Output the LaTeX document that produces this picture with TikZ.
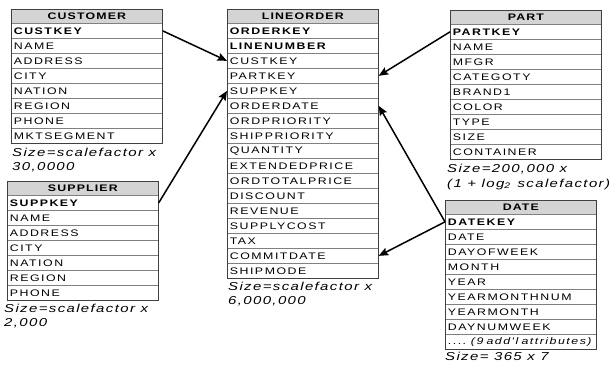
\documentclass[tikz,border=0pt]{standalone}
\usepackage{fontspec}
\setmainfont{Liberation Sans}[FakeStretch=1.3,LetterSpace=12]
\newfontfamily\rowfont{Liberation Sans}[FakeStretch=1.3,LetterSpace=16]
\usetikzlibrary{arrows.meta}

\tikzset{
  tblrow/.style={rectangle, draw=black!50, line width=0.7pt, minimum height=15pt,
    text width=146pt, inner xsep=2.5pt, inner ysep=0pt, align=left,
    anchor=north west, font=\rowfont\fontsize{9.5}{11}\selectfont},
  tblhead/.style={tblrow, fill=black!17, minimum height=14pt, align=center,
    font=\fontsize{9.5}{11}\selectfont\bfseries},
  tblframe/.style={draw=black!75, line width=0.9pt},
  sizenote/.style={anchor=base west, inner sep=0pt,
    font=\fontsize{11.5}{13}\selectfont\itshape},
  fk/.style={line width=1.5pt, -{Stealth[length=9.5pt,width=8pt,inset=1.5pt]}},
}

% #1 name prefix, #2 left x, #3 top y, #4 title, #5 rows
\newcommand{\dbtable}[5]{%
  \node[tblhead] (#1-h) at (#2,#3) {#4};
  \foreach \t [count=\i] in {#5} {
    \node[tblrow] (#1-\i) at ({#2},{#3+14+15*(\i-1)}) {\t};
  }
}
\newcommand{\moreattrs}{.... \textit{(9\ add'l attributes)}}

\begin{document}
\begin{tikzpicture}[x=1pt,y=-1pt]
  \fill[white] (0,0) rectangle (610,364);
  \useasboundingbox (0,0) rectangle (610,364);

  % dimension tables and the fact table
  \dbtable{cu}{11}{9}{CUSTOMER}{{\bfseries CUSTKEY},NAME,ADDRESS,CITY,NATION,REGION,PHONE,MKTSEGMENT}
  \draw[tblframe] (cu-h.north west) rectangle (cu-8.south east);

  \dbtable{su}{7}{181}{SUPPLIER}{{\bfseries SUPPKEY},NAME,ADDRESS,CITY,NATION,REGION,PHONE}
  \draw[tblframe] (su-h.north west) rectangle (su-7.south east);

  \dbtable{lo}{227}{9}{LINEORDER}{{\bfseries ORDERKEY},{\bfseries LINENUMBER},CUSTKEY,PARTKEY,SUPPKEY,ORDERDATE,ORDPRIORITY,SHIPPRIORITY,QUANTITY,EXTENDEDPRICE,ORDTOTALPRICE,DISCOUNT,REVENUE,SUPPLYCOST,TAX,COMMITDATE,SHIPMODE}
  \draw[tblframe] (lo-h.north west) rectangle (lo-17.south east);

  \dbtable{pa}{450}{10}{PART}{{\bfseries PARTKEY},NAME,MFGR,CATEGOTY,BRAND1,COLOR,TYPE,SIZE,CONTAINER}
  \draw[tblframe] (pa-h.north west) rectangle (pa-9.south east);

  \dbtable{da}{445}{200}{DATE}{{\bfseries DATEKEY},DATE,DAYOFWEEK,MONTH,YEAR,YEARMONTHNUM,YEARMONTH,DAYNUMWEEK,\moreattrs}
  \draw[tblframe] (da-h.north west) rectangle (da-9.south east);

  % table sizes
  \node[sizenote] (cu-s1) at (12,156) {Size=scalefactor x};
  \node[sizenote] (cu-s2) at (12,170) {30,0000};
  \node[sizenote] (su-s1) at (4,312) {Size=scalefactor x};
  \node[sizenote] (su-s2) at (4,326) {2,000};
  \node[sizenote] (lo-s1) at (228,290) {Size=scalefactor x};
  \node[sizenote] (lo-s2) at (228,304) {6,000,000};
  \node[sizenote] (pa-s1) at (447,172) {Size=200,000 x};
  \node[sizenote] (pa-s2) at (447,187) {(1 + log\raisebox{-1.5pt}{\footnotesize 2}\, scalefactor)};
  \node[sizenote] (da-s1) at (445,360) {Size= 365 x 7};

  % foreign keys
  \draw[fk] (cu-1.east) -- (lo-3.west);
  \draw[fk] (su-1.east) -- (lo-5.west);
  \draw[fk] (pa-1.west) -- (lo-4.east);
  \draw[fk] (da-1.west) -- (lo-6.east);
  \draw[fk] (da-1.west) -- (lo-16.east);
\end{tikzpicture}
\end{document}
